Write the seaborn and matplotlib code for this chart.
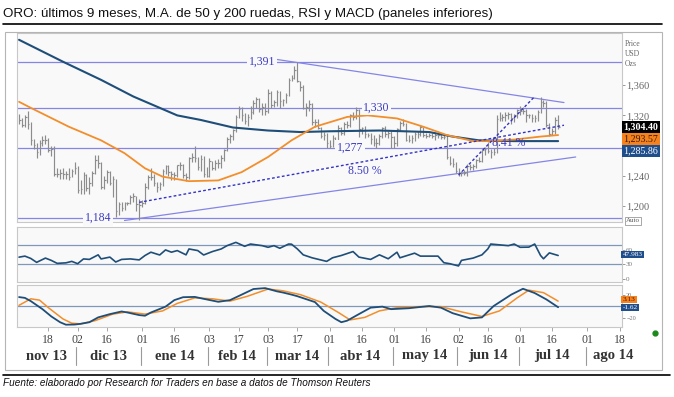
import numpy as np
import pandas as pd
import matplotlib
matplotlib.use("Agg")
import matplotlib.pyplot as plt
import matplotlib.transforms as mtransforms
from matplotlib.patches import Rectangle
from matplotlib.lines import Line2D
import seaborn as sns

# ---------------- datos ----------------
fechas = pd.bdate_range("2013-11-04", "2014-07-18")

cierre = [
    1314, 1307, 1318, 1308, 1287, 1281, 1271, 1284, 1287, 1288, 1274, 1275, 1243, 1243, 1244, 1242, 1242, 1238, 1246, 1251,
    1221, 1222, 1241, 1224, 1230, 1244, 1261, 1257, 1225, 1235, 1245, 1230, 1236, 1193, 1203, 1198, 1204, 1204, 1212, 1214, 1203, 1202,
    1204, 1225, 1238, 1238, 1230, 1225, 1229, 1247, 1253, 1245, 1242, 1241, 1254, 1254, 1241, 1238, 1263, 1265, 1263, 1252, 1262, 1242, 1240,
    1260, 1251, 1257, 1257, 1263, 1274, 1289, 1293, 1301, 1318, 1328, 1320, 1312, 1318, 1324, 1337, 1342, 1328, 1331, 1326,
    1350, 1334, 1338, 1351, 1339, 1340, 1347, 1367, 1370, 1380, 1366, 1358, 1330, 1331, 1335, 1311, 1311, 1304, 1293, 1294, 1284,
    1280, 1290, 1285, 1303, 1297, 1309, 1307, 1320, 1318, 1327, 1302, 1303, 1295, 1294, 1289, 1284, 1284, 1293, 1303, 1296, 1297, 1292,
    1283, 1302, 1310, 1308, 1288, 1288, 1290, 1296, 1295, 1305, 1294, 1293, 1294, 1293, 1294, 1294, 1292, 1292, 1265, 1257, 1256, 1246,
    1244, 1244, 1244, 1253, 1252, 1253, 1261, 1260, 1274, 1275, 1273, 1272, 1272, 1315, 1316, 1318, 1321, 1322, 1316, 1320, 1327,
    1326, 1326, 1320, 1320, 1317, 1317, 1325, 1338, 1337, 1307, 1296, 1300, 1314, 1304.40,
]
maximo = [
    1322, 1317, 1321, 1326, 1311, 1289, 1283, 1287, 1293, 1294, 1290, 1280, 1280, 1250, 1249, 1250, 1247, 1250, 1249, 1259,
    1253, 1235, 1245, 1243, 1238, 1246, 1267, 1267, 1259, 1240, 1248, 1246, 1240, 1236, 1206, 1206, 1205, 1206, 1215, 1217, 1214, 1210,
    1208, 1230, 1241, 1251, 1242, 1232, 1232, 1249, 1255, 1255, 1247, 1245, 1255, 1258, 1256, 1244, 1265, 1270, 1280, 1265, 1268, 1266, 1252,
    1263, 1260, 1261, 1262, 1268, 1275, 1292, 1295, 1302, 1320, 1332, 1331, 1323, 1322, 1332, 1340, 1344, 1343, 1336, 1336,
    1355, 1352, 1341, 1353, 1352, 1342, 1350, 1370, 1373, 1385, 1391, 1365, 1360, 1336, 1341, 1337, 1315, 1315, 1305, 1298, 1297,
    1287, 1294, 1292, 1307, 1305, 1311, 1313, 1322, 1324, 1331, 1328, 1305, 1306, 1297, 1297, 1294, 1290, 1296, 1305, 1306, 1300, 1299,
    1293, 1304, 1313, 1315, 1310, 1294, 1294, 1298, 1300, 1307, 1305, 1297, 1297, 1297, 1297, 1299, 1297, 1295, 1294, 1266, 1264, 1258,
    1250, 1247, 1248, 1256, 1256, 1256, 1262, 1265, 1275, 1278, 1285, 1276, 1277, 1320, 1325, 1322, 1325, 1325, 1323, 1322, 1329,
    1332, 1331, 1329, 1322, 1322, 1321, 1327, 1345, 1341, 1339, 1310, 1304, 1318, 1320,
]
minimo = [
    1309, 1305, 1305, 1302, 1281, 1275, 1263, 1267, 1280, 1282, 1272, 1266, 1240, 1238, 1236, 1236, 1236, 1235, 1238, 1243,
    1218, 1216, 1216, 1220, 1216, 1227, 1243, 1250, 1222, 1222, 1230, 1228, 1212, 1186, 1188, 1194, 1195, 1201, 1203, 1205, 1194, 1182,
    1199, 1203, 1222, 1235, 1226, 1219, 1221, 1226, 1243, 1240, 1234, 1235, 1238, 1248, 1237, 1233, 1236, 1259, 1259, 1248, 1247, 1239, 1238,
    1239, 1248, 1248, 1251, 1251, 1260, 1273, 1284, 1288, 1298, 1316, 1313, 1308, 1306, 1315, 1322, 1330, 1324, 1321, 1321,
    1323, 1330, 1331, 1333, 1330, 1333, 1337, 1346, 1365, 1368, 1364, 1352, 1328, 1319, 1326, 1307, 1305, 1302, 1290, 1288, 1277,
    1277, 1278, 1282, 1282, 1294, 1294, 1303, 1305, 1314, 1315, 1292, 1295, 1290, 1291, 1282, 1280, 1277, 1281, 1290, 1291, 1290, 1277,
    1277, 1280, 1299, 1306, 1286, 1285, 1284, 1286, 1290, 1293, 1291, 1290, 1291, 1290, 1288, 1290, 1289, 1289, 1262, 1255, 1252, 1244,
    1240, 1240, 1241, 1240, 1248, 1248, 1250, 1258, 1258, 1268, 1270, 1264, 1268, 1270, 1312, 1312, 1313, 1315, 1309, 1311, 1316,
    1321, 1322, 1311, 1317, 1311, 1311, 1313, 1323, 1331, 1305, 1293, 1294, 1296, 1302,
]

# medias moviles (rueda, valor)
ma50_dia = [0, 4, 17, 28, 36, 43, 49, 58, 68, 76, 85, 93, 101, 112, 119, 129, 138, 146, 155, 160, 169, 178, 184]
ma50_val = [1338, 1330, 1305, 1287, 1270, 1250, 1239, 1233, 1234, 1245, 1265, 1287, 1305, 1318, 1320, 1316,
            1305, 1294, 1286, 1286, 1288, 1292, 1294]
ma200_dia = [0, 15, 28, 39, 48, 54, 62, 73, 85, 96, 106, 123, 140, 148, 157, 169, 184]
ma200_val = [1420, 1391, 1367, 1345, 1330, 1320, 1314, 1304, 1300, 1298, 1299, 1300, 1298, 1292, 1287, 1286, 1286]

rsi_dia = [0, 2, 4, 6, 9, 11, 13, 16, 18, 20, 22, 24, 27, 28, 31, 33, 35, 38, 41, 43, 45, 48, 50, 52, 54, 57,
           58, 61, 63, 66, 69, 71, 74, 77, 79, 83, 85, 87, 89, 92, 93, 95, 97, 100, 105, 107, 110, 114, 116,
           120, 123, 126, 129, 130, 135, 137, 143, 145, 147, 150, 151, 155, 158, 160, 161, 167, 169, 171,
           174, 176, 178, 179, 181, 184]
rsi_val = [44.6, 46.7, 42, 34, 42.7, 38, 32, 33, 36, 31.3, 41, 40, 49.3, 41, 44.7, 34.7, 40, 41, 39, 48, 54.7,
           49, 59.3, 54.7, 58, 49.3, 61.3, 58, 49, 56, 61.3, 68, 74.7, 66.7, 71.3, 68, 64.7, 68, 62.7, 71.3, 71,
           61.3, 49.3, 43.3, 36, 43.3, 48, 56, 44.7, 40, 49.3, 41.3, 54.7, 43.3, 52.7, 46.7, 46.7, 33.3, 31.3,
           26.7, 38, 42.7, 49.3, 61.3, 71.3, 68, 71.3, 64.7, 65, 71.3, 48, 41.3, 53.3, 48]

macd_dia = [0, 2, 4, 8, 11, 14, 16, 19, 21, 24, 27, 31, 35, 37, 41, 43, 45, 50, 53, 56, 60, 63, 68, 72, 76,
            80, 84, 88, 90, 93, 95, 101, 104, 108, 110, 112, 116, 120, 124, 127, 133, 140, 144, 148, 154,
            158, 162, 168, 172, 176, 180, 184]
macd_val = [16, 14.6, 9, -5, -17.6, -27.7, -32, -31.7, -30.5, -27.7, -19.3, -13.6, -9, -10.8, -15.3, -16.4,
            -10.8, -0.6, 10.7, 15.8, 16.3, 13, 7.8, 10.7, 20.3, 30, 31.6, 26, 24, 20.3, 17.5, 7.3, -8, -22,
            -27.7, -25, -13.6, -2.4, -0.6, -5, -3.4, 0.5, -2.4, -12, -21, -19.3, 0.5, 20.3, 30.5, 23, 11.9, -1.6]
senal_dia = [0, 4, 7, 10, 15, 18, 21, 26, 32, 37, 43, 49, 54, 60, 66, 72, 78, 85, 90, 96, 103, 109, 113,
             118, 123, 129, 137, 144, 151, 158, 164, 170, 174, 179, 184]
senal_val = [1.7, 13, 10.7, -2.4, -22, -29.4, -30.5, -24.9, -13.6, -9.7, -13.6, -8, 5, 14.6, 13, 9, 17.5,
             30, 27, 20.3, 7.3, -10.8, -23.7, -19.3, -8, -2.4, -0.6, -0.6, -9.7, -17.6, -8, 14.6, 28, 23.7, 9]

ultimo_ma50, ultimo_ma200 = 1293.57, 1285.86
ultimo_rsi, ultimo_senal, ultimo_macd = 47.983, 3.13, -1.62

niveles = [1391, 1330, 1277, 1184]
niveles_etiqueta_dia = [83, 122, 113, 27]

# lineas de tendencia: (rueda inicial, precio, rueda final, precio)
tendencia_sup = (88, 1394, 186, 1337)
tendencia_inf = (36, 1181, 190, 1265)
tendencia_punt = [(41, 1205, 186, 1307), (150, 1241, 176, 1345)]
porcentajes = [("8.50 %", 118, 1246), ("8.41 %", 167, 1283)]

tick_fechas = ["2013-11-18", "2013-12-02", "2013-12-16", "2014-01-01", "2014-01-16", "2014-02-03",
               "2014-02-17", "2014-03-03", "2014-03-17", "2014-04-01", "2014-04-16", "2014-05-01",
               "2014-05-16", "2014-06-02", "2014-06-16", "2014-07-01", "2014-07-16", "2014-08-01",
               "2014-08-18"]
meses = ["nov 13", "dic 13", "ene 14", "feb 14", "mar 14", "abr 14", "may 14", "jun 14", "jul 14", "ago 14"]
inicio_meses = ["2013-12-01", "2014-01-01", "2014-02-01", "2014-03-01", "2014-04-01", "2014-05-01",
                "2014-06-01", "2014-07-01", "2014-08-01"]

titulo = "ORO: últimos 9 meses, M.A. de 50 y 200 ruedas, RSI y MACD (paneles inferiores)"
fuente = "Fuente: elaborado por Research for Traders en base a datos de Thomson Reuters"

# ---------------- preparacion ----------------
df = pd.DataFrame({"fecha": fechas, "cierre": cierre, "max": maximo, "min": minimo})
df["rueda"] = np.arange(len(df))
ruedas = pd.bdate_range("2013-11-04", "2014-08-29")


def rueda(f):
    return ruedas.searchsorted(pd.Timestamp(f))


sns.set_theme(style="white")
plt.rcParams["font.family"] = ["Liberation Serif", "DejaVu Serif"]
SANS = ["Liberation Sans", "DejaVu Sans"]

W, H = 674, 397
fig = plt.figure(figsize=(W / 100, H / 100), dpi=100)


def fx(x):
    return x / W


def fy(y):
    return 1 - y / H


X0, X1 = 17, 622
ax = fig.add_axes([fx(X0), fy(222), (X1 - X0) / W, (222 - 33) / H])
ax_rsi = fig.add_axes([fx(X0), fy(282), (X1 - X0) / W, (282 - 227) / H], sharex=ax)
ax_macd = fig.add_axes([fx(X0), fy(327), (X1 - X0) / W, (327 - 285) / H], sharex=ax)

for a in (ax, ax_rsi, ax_macd):
    a.set_facecolor("#f9f9f9")
    for s in a.spines.values():
        s.set_color("#c8c8c8")
        s.set_linewidth(0.8)
    a.grid(False)

ax.set_xlim(-0.7, 205.8)

# ---------------- panel de precio ----------------
LEVEL = "#8585e6"
TXT = "#3b3bc4"
for n in niveles:
    ax.axhline(n, color=LEVEL, lw=0.9, zorder=1)

for d0, p0, d1, p1 in [tendencia_sup, tendencia_inf]:
    ax.plot([d0, d1], [p0, p1], color=LEVEL, lw=0.9, zorder=1)
for d0, p0, d1, p1 in tendencia_punt:
    ax.plot([d0, d1], [p0, p1], color="#3434c4", lw=1.0, ls=(0, (2, 1.6)), zorder=5)

ax.vlines(df["rueda"], df["min"], df["max"], color="#8c8c8c", lw=0.85, zorder=3)
ax.hlines(df["cierre"], df["rueda"], df["rueda"] + 0.55, color="#8c8c8c", lw=0.85, zorder=3)

sns.lineplot(x=ma200_dia, y=ma200_val, ax=ax, color="#1f4e79", lw=1.5, zorder=4)
sns.lineplot(x=ma50_dia, y=ma50_val, ax=ax, color="#f28e2b", lw=1.3, zorder=4)

for n, d in zip(niveles, niveles_etiqueta_dia):
    ax.text(d, n, f"{n:,}", ha="center", va="center", fontsize=8.5, color=TXT, zorder=6,
            bbox=dict(fc="#f9f9f9", ec="none", pad=1.2))
for txt, d, p in porcentajes:
    ax.text(d, p, txt, ha="center", va="center", fontsize=8.5, color=TXT, zorder=6)

ax.set_ylim(1179, 1429)
ax.yaxis.tick_right()
ax.set_yticks([1200, 1240, 1320, 1360])
ax.set_yticklabels([f"{v:,}" for v in [1200, 1240, 1320, 1360]])
ax.tick_params(axis="y", length=2, width=0.6, color="#888888", labelsize=7.5, labelcolor="#666666", pad=1)
ax.tick_params(axis="x", bottom=False, labelbottom=False)
ax.set_xlabel("")
ax.set_ylabel("")

# ---------------- RSI ----------------
for v in [70, 30]:
    ax_rsi.axhline(v, color="#7f98b8", lw=0.9, zorder=1)
sns.lineplot(x=rsi_dia, y=rsi_val, ax=ax_rsi, color="#1f4e79", lw=1.2, zorder=3)
ax_rsi.set_ylim(-6, 106)
ax_rsi.yaxis.tick_right()
ax_rsi.set_yticks([0, 30, 60])
ax_rsi.tick_params(axis="y", length=2, width=0.6, color="#888888", labelsize=5, labelcolor="#777777", pad=1)
ax_rsi.tick_params(axis="x", bottom=False, labelbottom=False)
ax_rsi.set_xlabel("")
ax_rsi.set_ylabel("")

# ---------------- MACD ----------------
ax_macd.axhline(0, color="#7f98b8", lw=0.9, zorder=1)
sns.lineplot(x=senal_dia, y=senal_val, ax=ax_macd, color="#f28e2b", lw=1.1, zorder=3)
sns.lineplot(x=macd_dia, y=macd_val, ax=ax_macd, color="#1f4e79", lw=1.3, zorder=4)
ax_macd.set_ylim(-36, 37)
ax_macd.yaxis.tick_right()
ax_macd.set_yticks([-20, 20])
ax_macd.tick_params(axis="y", length=2, width=0.6, color="#888888", labelsize=4.5, labelcolor="#777777", pad=1)
ax_macd.set_xticks([rueda(f) for f in tick_fechas])
ax_macd.set_xticklabels([pd.Timestamp(f).strftime("%d") for f in tick_fechas])
ax_macd.tick_params(axis="x", length=3, width=0.6, color="#999999", labelsize=8.5, labelcolor="#444444",
                    pad=2, bottom=True)
ax_macd.set_xlabel("")
ax_macd.set_ylabel("")
ax.set_xlim(-0.7, 205.8)

# meses y separadores
trans = mtransforms.blended_transform_factory(ax_macd.transData, fig.transFigure)
seps = [rueda(f) - 0.5 for f in inicio_meses]
bordes = [ax.get_xlim()[0]] + seps + [ax.get_xlim()[1] + 6]
for i, mes in enumerate(meses):
    c = (bordes[i] + bordes[i + 1]) / 2
    ax_macd.text(c, fy(356), mes, transform=trans, ha="center", va="center", fontsize=10.5,
                 fontweight="bold", color="#333333", clip_on=False)
for s in seps:
    fig.add_artist(Line2D([s, s], [fy(347), fy(365)], transform=trans, color="#9a9a9a", lw=0.8))

# ---------------- etiquetas a la derecha ----------------
for i, t in enumerate(["Price", "USD", "Ozs"]):
    fig.text(fx(625), fy(44 + 10 * i), t, fontsize=5.5, color="#666666", va="center")

fig.text(fx(623.5), fy(127), f"{cierre[-1]:,.2f}", fontsize=7.2, color="white", va="center", fontweight="bold",
         bbox=dict(fc="black", ec="none", boxstyle="square,pad=0.15"))
fig.text(fx(623.5), fy(139), f"{ultimo_ma50:,.2f}", fontsize=7.2, color="#3a1a00", va="center",
         bbox=dict(fc="#f5821f", ec="none", boxstyle="square,pad=0.15"))
fig.text(fx(623.5), fy(151), f"{ultimo_ma200:,.2f}", fontsize=7.2, color="white", va="center",
         bbox=dict(fc="#1f4e8c", ec="none", boxstyle="square,pad=0.15"))
fig.text(fx(626), fy(221), "Auto", fontsize=5, color="#555555", va="center",
         bbox=dict(fc="white", ec="#999999", lw=0.6, boxstyle="square,pad=0.2"))

fig.text(fx(622.5), fy(254.5), f"{ultimo_rsi:.3f}", fontsize=5.2, color="white", va="center",
         bbox=dict(fc="#1f4e8c", ec="none", boxstyle="square,pad=0.2"))
fig.text(fx(622.5), fy(299.5), f"{ultimo_senal:.2f}", fontsize=5.2, color="#3a1a00", va="center",
         bbox=dict(fc="#f5821f", ec="none", boxstyle="square,pad=0.2"))
fig.text(fx(622.5), fy(307.5), f"{ultimo_macd:.2f}", fontsize=5.2, color="white", va="center",
         bbox=dict(fc="#1f4e8c", ec="none", boxstyle="square,pad=0.2"))

fig.add_artist(Line2D([fx(655)], [fy(333)], marker="o", ms=3.5, color="#1a8a1a", lw=0))

# ---------------- marco, titulo y fuente ----------------
fig.patches.append(Rectangle((fx(5), fy(370)), (662 - 5) / W, (370 - 32) / H, transform=fig.transFigure,
                             fill=False, ec="#b5b5b5", lw=0.8))
fig.text(fx(3), fy(14), titulo, fontsize=9.6, family=SANS, va="center", ha="left", color="#111111")
fig.add_artist(Line2D([fx(3), fx(662)], [fy(23.5), fy(23.5)], color="black", lw=1.2))
fig.add_artist(Line2D([fx(3), fx(670)], [fy(375), fy(375)], color="black", lw=1.2))
fig.text(fx(3), fy(383), fuente, fontsize=7.2, family=SANS, style="italic", va="center", ha="left",
         color="#111111")

fig.savefig("out.png", dpi=100)
